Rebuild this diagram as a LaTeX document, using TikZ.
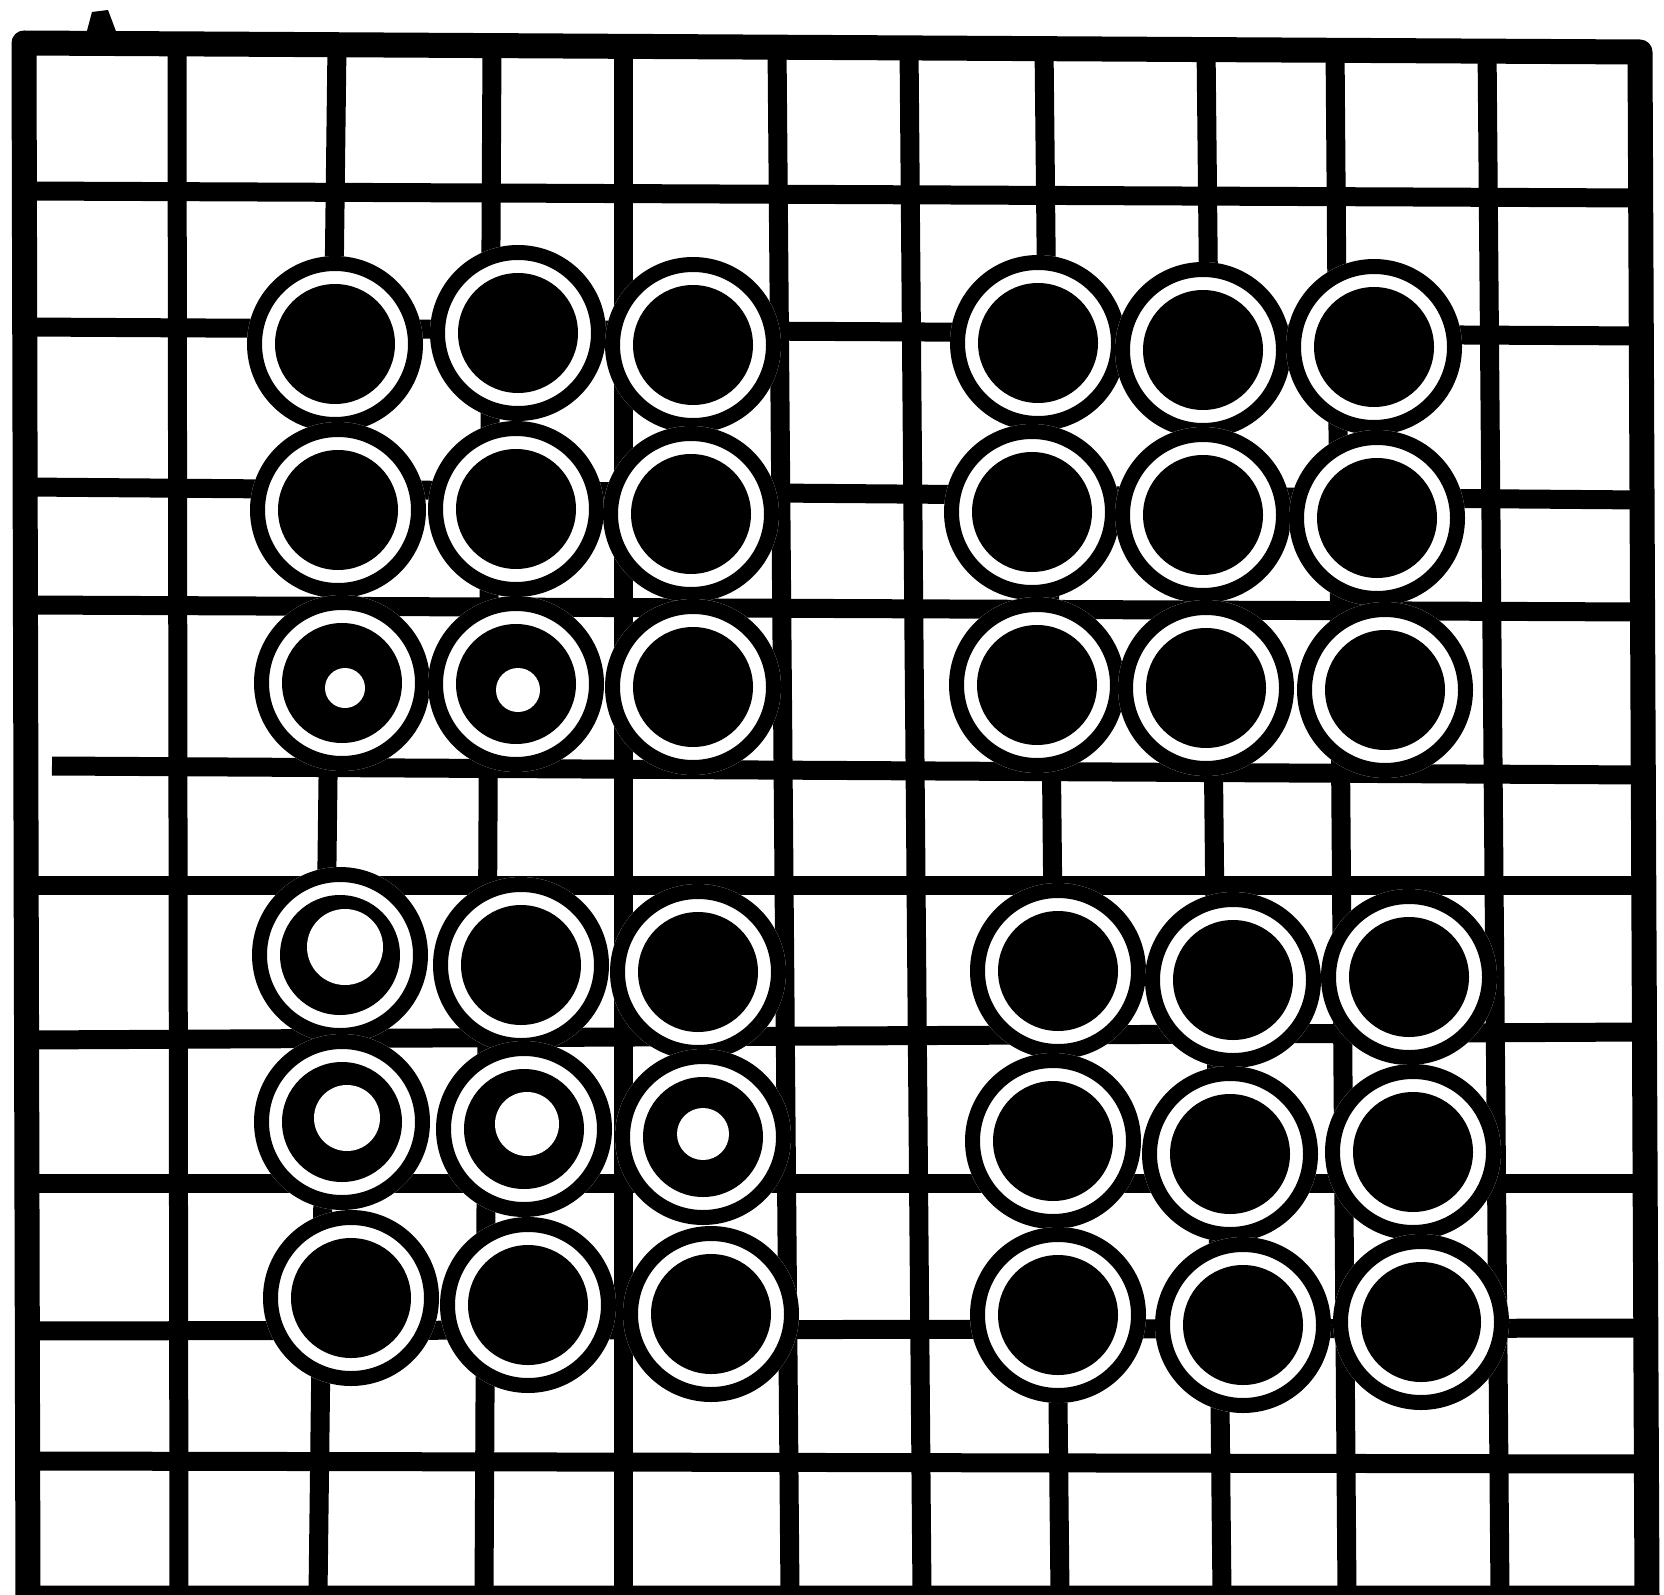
\documentclass[tikz,border=0pt]{standalone}
\begin{document}
\begin{tikzpicture}[x=0.1mm,y=-0.1mm,
        gridline/.style={line width=1.9mm},
        frame/.style={line width=2.5mm,line join=round},
        ring/.style={line width=1.5mm}]
    \useasboundingbox (0,0) rectangle (1664,1595);
    % vertical lines
    \foreach \xt/\xb in {177/179,337/318,492/484,623/623,777/790,
                         909/922,1044/1060,1206/1222,1335/1347,1487/1500}
        \draw[gridline] (\xt,45) -- (\xb,1595);
    % horizontal lines
    \foreach \yl/\yr in {191/198,327/336,487/500,605/612,885/885,
                         1040/1032,1183/1183,1331/1328,1461/1464}
        \draw[gridline] (26,\yl) -- (1644,\yr);
    \draw[gridline] (52,766) -- (1644,775);
    % outer frame
    \draw[frame] (24,43) -- (1640,52) -- (1647,1598) -- (28,1598) -- cycle;
    \fill (84,42) -- (92,12) -- (108,10) -- (120,42) -- cycle;
    % stones
    \foreach \x/\y in {335/344,518/333,693/345,
                       338/510,516/509,691/514,
                       342/683,516/684,693/687,
                       1038/343,1203/350,1374/347,
                       1032/512,1203/515,1377/518,
                       1037/685,1206/688,1385/690,
                       340/955,521/965,698/972,
                       342/1122,524/1129,703/1137,
                       351/1298,528/1305,711/1314,
                       1058/971,1233/980,1409/977,
                       1053/1141,1230/1154,1413/1152,
                       1058/1315,1243/1325,1421/1322}{
        \fill[white] (\x,\y) circle (8.8mm);
        \draw[ring] (\x,\y) circle (8.05mm);
        \fill (\x,\y) circle (6.0mm);
    }
    % worn centres
    \foreach \x/\y/\r in {345/947/38,347/1118/33,527/1124/32,
                          703/1134/26,345/688/20,518/690/22}
        \fill[white] (\x,\y) circle (\r*0.1mm);
\end{tikzpicture}
\end{document}
